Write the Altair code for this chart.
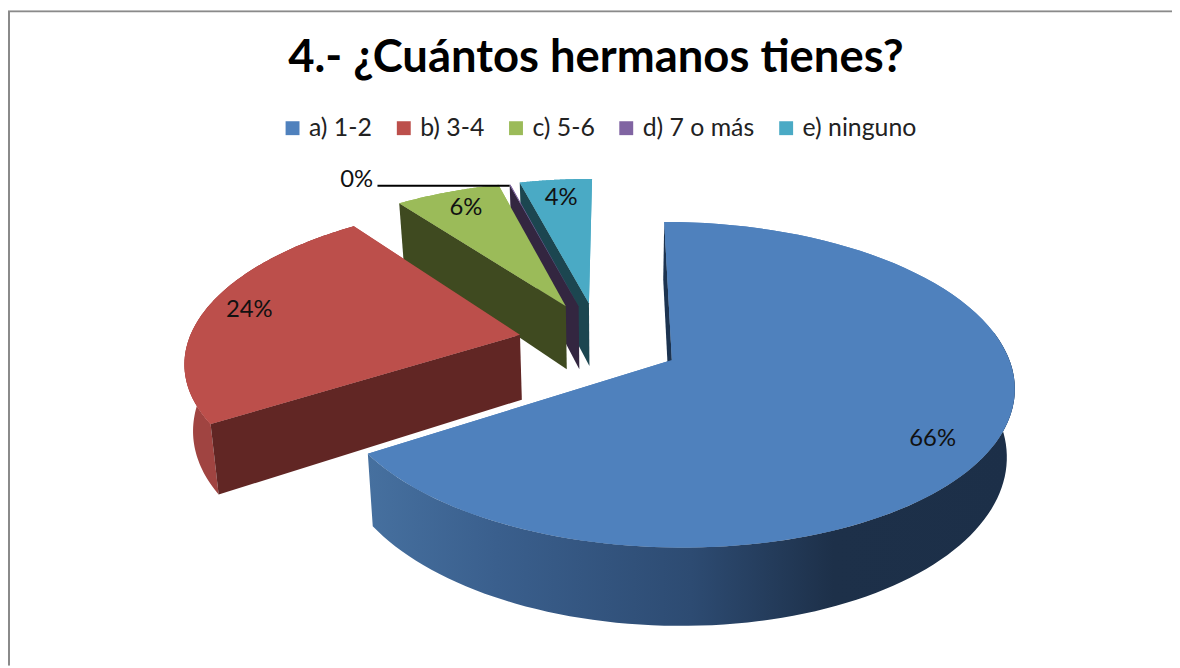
import numpy as np
import altair as alt

categories = ["a) 1-2", "b) 3-4", "c) 5-6", "d) 7 o más", "e) ninguno"]
shares = [65.9, 23.9, 6.0, 0.05, 4.15]
labels = ["66%", "24%", "6%", "0%", "4%"]
top_colors = ["#4F81BD", "#BC4F4B", "#9BBB59", "#8064A2", "#4AAAC5"]
cut_colors = ["#1C3350", "#612624", "#3F4A20", "#332640", "#1C4650"]
wall_color_red = "#A04441"
explode_u = [0.172, -0.285, -0.15, -0.11, -0.078]
explode_v = [0.087, -0.075, -0.27, -0.27, -0.29]
label_px = [(939, 440), (251, 310), (469, 207), (359, 179), (565, 197)]

W, H = 1172, 660
X0, Y0, R, K, P, D, C = 618, 346.4, 335.4, 156, 0.15, 66, 0.02
OFF = 8

ends = np.cumsum(shares) / np.sum(shares) * 2 * np.pi
starts = np.concatenate([[0], ends[:-1]])


def pt(i, t, r=1.0, z=0.0):
    u = explode_u[i] + r * np.sin(t)
    v = explode_v[i] - r * np.cos(t)
    s = 1 / (1 - P * v)
    return [float(X0 + R * u * s * (1 - C * z) - OFF), float(Y0 + K * v * s + D * z * s - OFF)]


def poly(points):
    return {"type": "Polygon", "coordinates": [points + [points[0]]]}


def feat(geom, **props):
    return {"type": "Feature", "geometry": geom, **props}


def rim(i, a, b, z=0.0, n=90):
    return [pt(i, t, 1.0, z) for t in np.linspace(a, b, n)]


def top(i):
    return poly([pt(i, 0, 0)] + rim(i, starts[i], ends[i]))


def cut(i):
    a = starts[i]
    return poly([pt(i, a, 1, 0), pt(i, a, 0, 0), pt(i, a, 0, 1), pt(i, a, 1, 1)])


def wall(i, a=None):
    a = starts[i] if a is None else a
    return poly(rim(i, a, ends[i]) + rim(i, a, ends[i], 1)[::-1])


proj = dict(type="identity", scale=1, translate=[0, 0])

# legend-bearing surfaces
legend_rows = [feat(top(i), cat=categories[i]) for i in range(5)]
base = alt.Chart(alt.Data(values=legend_rows)).mark_geoshape(strokeWidth=0).encode(
    color=alt.Color(
        "cat:N",
        scale=alt.Scale(domain=categories, range=top_colors),
        legend=alt.Legend(
            title=None, orient="none", legendX=274, legendY=106, direction="horizontal",
            columns=5, columnPadding=19, symbolType="square", symbolSize=196,
            symbolStrokeWidth=0, labelFont="Lato", labelFontSize=25, labelColor="#222222",
            labelOffset=4, labelLimit=300, symbolOpacity=1,
        ),
    )
)

# back-to-front faces
faces = [feat(cut(0), fill=cut_colors[0])]
for i in [4, 3, 2, 1]:
    if i == 1:
        faces.append(feat(wall(i), fill=wall_color_red))
    faces.append(feat(cut(i), fill=cut_colors[i]))
    faces.append(feat(top(i), fill=top_colors[i]))
face_layer = alt.Chart(alt.Data(values=faces)).mark_geoshape(strokeWidth=0).encode(
    fill=alt.Fill("fill:N", scale=None)
)

blue_stops = [
    alt.GradientStop(color="#46709F", offset=0),
    alt.GradientStop(color="#3A5F8D", offset=0.2),
    alt.GradientStop(color="#2D4B72", offset=0.5),
    alt.GradientStop(color="#1D3049", offset=0.72),
    alt.GradientStop(color="#1C2F48", offset=1),
]
blue_wall = alt.Chart(alt.Data(values=[feat(wall(0, np.radians(80)))])).mark_geoshape(
    strokeWidth=0,
    fill=alt.Gradient(gradient="linear", stops=blue_stops, x1=0, x2=1, y1=0, y2=0),
)
blue_top = alt.Chart(alt.Data(values=[feat(top(0))])).mark_geoshape(strokeWidth=0, fill=top_colors[0])

leader_end = pt(3, starts[3])
leader = alt.Chart(alt.Data(values=[feat({"type": "LineString", "coordinates": [[380 - OFF, leader_end[1] + 1], [leader_end[0], leader_end[1] + 1]]})])).mark_geoshape(
    filled=False, stroke="#000000", strokeWidth=2
)
frame = alt.Chart(alt.Data(values=[feat({"type": "LineString", "coordinates": [[1, H], [1, 1], [W, 1]]})])).mark_geoshape(
    filled=False, stroke="#8A8A8A", strokeWidth=2
)

label_rows = [
    {"text": labels[i], "lon": label_px[i][0] - OFF, "lat": label_px[i][1] - OFF}
    for i in range(5)
]
text_layer = alt.Chart(alt.Data(values=label_rows)).mark_text(
    font="Lato", fontSize=24, color="#111111", align="center", baseline="middle"
).encode(longitude="lon:Q", latitude="lat:Q", text="text:N")

chart = (
    alt.layer(frame, base, face_layer, blue_wall, blue_top, leader, text_layer)
    .project(**proj)
    .properties(
        width=W,
        height=H,
        padding=0,
        autosize=alt.AutoSizeParams(type="none"),
        title=alt.TitleParams(
            "4.- ¿Cuántos hermanos tienes?", font="Lato", fontWeight="bold", fontSize=45.7,
            color="#000000", anchor="middle", frame="group", dy=76, dx=6,
        ),
    )
    .configure_view(stroke=None)
    .configure(background="white")
)

chart.save("out.html", embed_options={"renderer": "svg", "actions": False})
